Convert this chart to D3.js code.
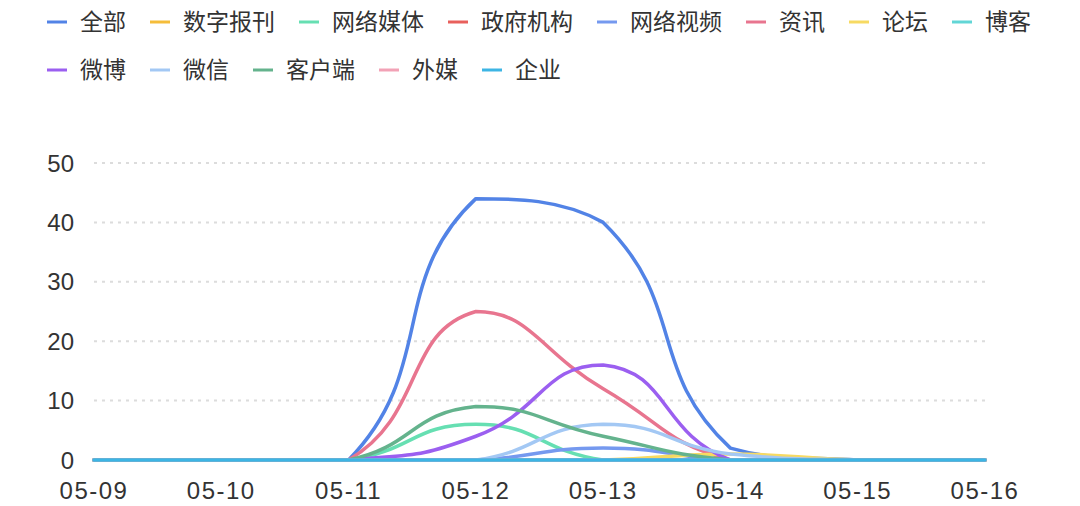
<!DOCTYPE html>
<html>
<head>
<meta charset="utf-8">
<script src="https://cdn.jsdelivr.net/npm/d3@7/dist/d3.min.js"></script>
<style>
  html, body { margin: 0; padding: 0; background: #fff; }
  text { font-family: 'Noto Sans CJK SC', 'Noto Sans', sans-serif; }
  .y-label, .x-label { font-family: 'Liberation Sans', Arial, sans-serif; }
</style>
</head>
<body>
<div id="chart"></div>
<script>
const dates = ['05-09', '05-10', '05-11', '05-12', '05-13', '05-14', '05-15', '05-16']

const seriesNames = ['全部', '数字报刊', '网络媒体', '政府机构', '网络视频', '资讯', '论坛', '博客', '微博', '微信', '客户端', '外媒', '企业']

const colors = ['#5283e6', '#f5bd3a', '#66dfb2', '#e8605c', '#7599ef', '#e8758f', '#f7da62', '#62d6d6', '#9b5ff0', '#a3c8f4', '#64b38d', '#f2a2b6', '#3db5e4']

const allValues = [0, 0, 0, 44, 40, 2, 0, 0]
const paperValues = [0, 0, 0, 0, 0, 0, 0, 0]
const webMediaValues = [0, 0, 0, 6, 0, 0, 0, 0]
const govValues = [0, 0, 0, 0, 0, 0, 0, 0]
const videoValues = [0, 0, 0, 0, 2, 0, 0, 0]
const newsValues = [0, 0, 0, 25, 12, 0, 0, 0]
const forumValues = [0, 0, 0, 0, 0, 1, 0, 0]
const blogValues = [0, 0, 0, 0, 0, 0, 0, 0]
const weiboValues = [0, 0, 0, 4, 16, 0, 0, 0]
const wechatValues = [0, 0, 0, 0, 6, 1, 0, 0]
const appValues = [0, 0, 0, 9, 4, 0, 0, 0]
const foreignValues = [0, 0, 0, 0, 0, 0, 0, 0]
const companyValues = [0, 0, 0, 0, 0, 0, 0, 0]

const yTicks = [0, 10, 20, 30, 40, 50]

const seriesValues = [allValues, paperValues, webMediaValues, govValues, videoValues, newsValues,
  forumValues, blogValues, weiboValues, wechatValues, appValues, foreignValues, companyValues]

const width = 1080
const height = 506
const margin = { top: 163, left: 94, right: 95, bottom: 46 }

const svg = d3
  .select('#chart')
  .append('svg')
  .attr('width', width)
  .attr('height', height)

const xPositionScale = d3
  .scalePoint()
  .domain(dates)
  .range([margin.left, width - margin.right])

const yPositionScale = d3
  .scaleLinear()
  .domain([0, 50])
  .range([height - margin.bottom, margin.top])

// smooth curve like echarts (smooth: 0.5, clamped to the series bounding box)
function smoothCurve(context) {
  let pts
  return {
    areaStart() {},
    areaEnd() {},
    lineStart() { pts = [] },
    point(x, y) { pts.push([+x, +y]) },
    lineEnd() {
      const smooth = 0.5
      const n = pts.length
      const minX = d3.min(pts, p => p[0])
      const maxX = d3.max(pts, p => p[0])
      const minY = d3.min(pts, p => p[1])
      const maxY = d3.max(pts, p => p[1])
      const clamp = p => [
        Math.max(minX, Math.min(maxX, p[0])),
        Math.max(minY, Math.min(maxY, p[1]))
      ]
      context.moveTo(pts[0][0], pts[0][1])
      let cp0 = pts[0].slice()
      for (let i = 1; i < n; i++) {
        const p = pts[i]
        const prev = pts[i - 1]
        const next = pts[i + 1]
        let cp1 = p.slice()
        let v = [0, 0]
        let ratio = 0.5
        if (next) {
          v = [next[0] - prev[0], next[1] - prev[1]]
          const d0 = Math.hypot(p[0] - prev[0], p[1] - prev[1])
          const d1 = Math.hypot(next[0] - p[0], next[1] - p[1])
          ratio = d1 / (d0 + d1)
          cp1 = [p[0] - v[0] * smooth * (1 - ratio), p[1] - v[1] * smooth * (1 - ratio)]
        }
        const a = clamp(cp0)
        const b = clamp(cp1)
        context.bezierCurveTo(a[0], a[1], b[0], b[1], p[0], p[1])
        cp0 = [p[0] + v[0] * smooth * ratio, p[1] + v[1] * smooth * ratio]
      }
    }
  }
}

const line = d3
  .line()
  .x((d, i) => xPositionScale(dates[i]))
  .y(d => yPositionScale(d))
  .curve(smoothCurve)

// grid lines
svg
  .selectAll('.grid')
  .data(yTicks.filter(d => d > 0))
  .enter()
  .append('line')
  .attr('class', 'grid')
  .attr('x1', margin.left)
  .attr('x2', width - margin.right)
  .attr('y1', d => yPositionScale(d))
  .attr('y2', d => yPositionScale(d))
  .attr('stroke', '#dcdcdc')
  .attr('stroke-width', 2)
  .attr('stroke-dasharray', '3,5')

// y labels
svg
  .selectAll('.y-label')
  .data(yTicks)
  .enter()
  .append('text')
  .attr('class', 'y-label')
  .attr('x', 74)
  .attr('y', d => yPositionScale(d))
  .attr('dy', '0.36em')
  .attr('text-anchor', 'end')
  .attr('font-size', 24)
  .attr('fill', '#333')
  .text(d => d)

// x labels
svg
  .selectAll('.x-label')
  .data(dates)
  .enter()
  .append('text')
  .attr('class', 'x-label')
  .attr('x', d => xPositionScale(d))
  .attr('y', 490)
  .attr('dy', '0.36em')
  .attr('text-anchor', 'middle')
  .attr('font-size', 24)
  .attr('letter-spacing', 1.5)
  .attr('fill', '#333')
  .text(d => d)

// lines
svg
  .selectAll('.series')
  .data(seriesValues)
  .enter()
  .append('path')
  .attr('class', 'series')
  .attr('d', d => line(d))
  .attr('fill', 'none')
  .attr('stroke', (d, i) => colors[i])
  .attr('stroke-width', 3.5)
  .attr('stroke-linejoin', 'round')
  .attr('stroke-linecap', 'round')

// legend
const rows = [seriesNames.slice(0, 8), seriesNames.slice(8)]
rows.forEach((names, r) => {
  let x = 47
  const y = 22 + r * 48
  names.forEach(name => {
    const i = seriesNames.indexOf(name)
    const g = svg.append('g').attr('class', 'legend-item')
    g.append('line')
      .attr('x1', x)
      .attr('x2', x + 20)
      .attr('y1', y)
      .attr('y2', y)
      .attr('stroke', colors[i])
      .attr('stroke-width', 3)
    const t = g
      .append('text')
      .attr('x', x + 33)
      .attr('y', y)
      .attr('dy', '0.36em')
      .attr('font-size', 23)
      .attr('fill', '#333')
      .text(name)
    x = x + 33 + t.node().getComputedTextLength() + 24
  })
})
</script>
</body>
</html>
